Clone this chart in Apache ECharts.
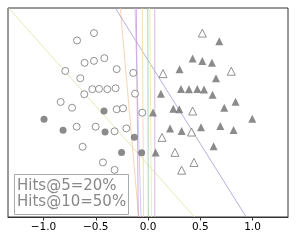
<!DOCTYPE html>
<html><head><meta charset="utf-8">
<script src="https://cdn.jsdelivr.net/npm/echarts@6/dist/echarts.min.js"></script>
<style>html,body{margin:0;padding:0;background:#fff}#c{width:296px;height:241px}</style>
</head><body><div id="c"></div>
<script>
const xTicks = [-1.0, -0.5, 0.0, 0.5, 1.0];
const openCircles = [[-0.517,0.760],[-0.679,0.689],[-0.607,0.475],[-0.517,0.494],[-0.418,0.520],[-0.792,0.398],[-0.648,0.328],[-0.300,0.415],[-0.141,0.379],[-0.533,0.223],[-0.469,0.226],[-0.389,0.223],[-0.310,0.232],[-0.610,0.175],[-0.124,0.180],[-0.836,0.101],[-0.727,0.046],[-0.300,0.031],[-0.239,0.040],[-0.055,-0.002],[-0.683,-0.136],[-0.501,-0.136],[-0.320,-0.180],[-0.208,-0.152],[-0.626,-0.328],[-0.431,-0.478],[-0.320,-0.549]];
const filledCircles = [[-0.421,0.014],[-0.995,-0.065],[-0.813,-0.171],[-0.411,-0.187],[-0.131,-0.238],[-0.253,-0.382],[-0.061,-0.386]];
const openTriangles = [[0.520,0.760],[0.144,0.372],[0.797,0.395],[0.427,0.014],[0.417,-0.187],[0.134,-0.238],[0.258,-0.382],[0.440,-0.478],[0.322,-0.552]];
const filledTriangles = [[0.682,0.683],[0.427,0.516],[0.520,0.494],[0.612,0.475],[0.302,0.415],[0.651,0.328],[0.316,0.226],[0.392,0.223],[0.472,0.226],[0.536,0.219],[0.618,0.171],[0.124,0.180],[0.242,0.036],[0.300,0.031],[0.730,0.046],[0.838,0.104],[0.048,0.000],[0.998,-0.060],[0.211,-0.152],[0.322,-0.178],[0.507,-0.142],[0.692,-0.130],[0.819,-0.168],[0.628,-0.322],[0.073,-0.382]];
// boundary lines: x at top (y=1) and x at bottom (y=-1)
const lineTopX    = [-0.265, -1.334, -0.313, -0.124, -0.112, -0.055, -0.002, 0.017, 0.065];
const lineBottomX = [-0.090,  0.445,  0.940, -0.067, -0.093, -0.042,  0.003, 0.034, 0.065];
const lineColors  = ['#f6c9a0','#d9e6a0','#a99ad6','#c0c0ec','#c79ad0','#f7d2a2','#8fcca8','#eceaa0','#d2a6d8'];
const legendText = 'Hits@5=20%\nHits@10=50%';

const lineSeries = lineTopX.map((t, i) => ({
  type: 'line', data: [[t, 1], [lineBottomX[i], -1]], symbol: 'none', silent: true,
  lineStyle: {color: lineColors[i], width: 1, opacity: 0.8}, z: 1
}));
const chart = echarts.init(document.getElementById('c'), null, {renderer: 'canvas'});
chart.setOption({
  animation: false,
  textStyle: {fontFamily: 'DejaVu Sans'},
  grid: {left: 8, right: 8, top: 8, bottom: 24, show: true, borderColor: '#333', borderWidth: 1},
  title: {
    text: legendText, left: 14, top: 174,
    borderColor: '#aaa', borderWidth: 1, padding: [4, 3, 5, 3], backgroundColor: '#fff',
    textStyle: {fontSize: 15, fontWeight: 'normal', color: '#888', lineHeight: 16, fontFamily: 'DejaVu Sans'}
  },
  xAxis: {
    type: 'value', min: -1.34, max: 1.34,
    axisLine: {onZero: false, lineStyle: {color: '#333'}},
    splitLine: {show: false},
    axisTick: {show: true, length: 3.5, customValues: xTicks, lineStyle: {color: '#333'}},
    axisLabel: {customValues: xTicks, fontSize: 10.5, color: '#000', margin: 5,
      formatter: v => (v < 0 ? '\u2212' : '') + Math.abs(v).toFixed(1)}
  },
  yAxis: {type: 'value', min: -1, max: 1, show: false, splitLine: {show: false}},
  series: [
    ...lineSeries,
    {type: 'scatter', data: openCircles, symbol: 'circle', symbolSize: 7, z: 3,
      itemStyle: {color: '#fff', borderColor: '#777', borderWidth: 1}},
    {type: 'scatter', data: filledCircles, symbol: 'circle', symbolSize: 7, z: 3,
      itemStyle: {color: '#6e6e6e'}},
    {type: 'scatter', data: openTriangles, symbol: 'triangle', symbolSize: 8, z: 3,
      itemStyle: {color: '#fff', borderColor: '#777', borderWidth: 1}},
    {type: 'scatter', data: filledTriangles, symbol: 'triangle', symbolSize: 8, z: 3,
      itemStyle: {color: '#6e6e6e'}}
  ]
});
</script></body></html>
